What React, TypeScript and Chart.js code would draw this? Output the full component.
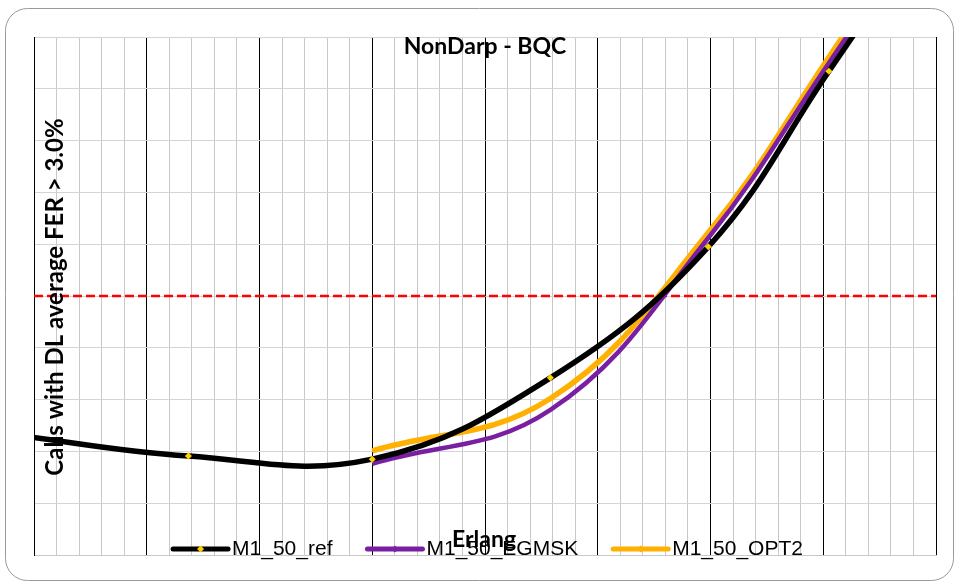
import React, { useEffect, useRef } from "react";
import { Chart, registerables } from "chart.js";

Chart.register(...registerables);

// ---- data ----
const chartTitle = "NonDarp - BQC";
const xAxisTitle = "Erlang";
const yAxisTitle = "Calls with DL average FER > 3.0%";

const refX = [-0.25, 1.37, 3.0, 4.58, 5.98, 7.05, 8.2];
const refY = [2.34, 1.91, 1.85, 3.42, 5.95, 9.34, 13.0];

const egmskX = [3.0, 4.58, 5.98, 7.05, 8.2];
const egmskY = [1.76, 2.8, 6.12, 9.5, 13.2];

const opt2X = [3.0, 4.58, 5.98, 7.05, 8.2];
const opt2Y = [2.01, 3.02, 6.22, 9.61, 13.4];

const thresholdX = [0, 8];
const thresholdY = [5, 5];

const seriesNames = ["M1_50_ref", "M1_50_EGMSK", "M1_50_OPT2"];

const xMin = 0;
const xMax = 8;
const xStep = 0.2;
const yMin = 0;
const yMax = 10;
const yStep = 1;

const toPoints = (xs: number[], ys: number[]) => xs.map((x, i) => ({ x, y: ys[i] }));

const COLORS = ["#000000", "#7B1FA2", "#FFB000"];
const MARKER_COLORS = ["#FFD000", "#7B1FA2", "#FFB000"];

const decorPlugin = {
  id: "decor",
  beforeDraw(chart: any) {
    const ctx = chart.ctx;
    ctx.save();
    ctx.fillStyle = "#ffffff";
    ctx.fillRect(0, 0, chart.width, chart.height);
    ctx.beginPath();
    (ctx as any).roundRect(5.5, 8.5, 948, 572, 22);
    ctx.strokeStyle = "#9a9a9a";
    ctx.lineWidth = 1;
    ctx.stroke();
    ctx.restore();
  },
  afterDraw(chart: any) {
    const ctx = chart.ctx;
    ctx.save();
    ctx.fillStyle = "#000";
    // title
    ctx.font = "bold 23px Lato";
    ctx.textAlign = "center";
    ctx.textBaseline = "alphabetic";
    ctx.fillText(chartTitle, 485, 53.5);

    // y axis title
    ctx.save();
    ctx.translate(63, 297);
    ctx.rotate(-Math.PI / 2);
    ctx.font = "bold 24px Lato";
    ctx.textAlign = "center";
    ctx.fillText(yAxisTitle, 0, 0);
    ctx.restore();

    // legend
    ctx.font = "21px 'Liberation Sans'";
    ctx.textAlign = "left";
    const sampleLen = 55;
    const gapText = 4;
    const gapItems = 35;
    const widths = seriesNames.map((n) => ctx.measureText(n).width);
    const total = widths.reduce((a, w) => a + sampleLen + gapText + w, 0) + gapItems * (seriesNames.length - 1);
    let x = 488 - total / 2;
    const ly = 549;
    seriesNames.forEach((name, i) => {
      ctx.beginPath();
      ctx.moveTo(x, ly);
      ctx.lineTo(x + sampleLen, ly);
      ctx.strokeStyle = COLORS[i];
      ctx.lineWidth = 5;
      ctx.lineCap = "round";
      ctx.stroke();
      const cx = x + sampleLen / 2;
      ctx.beginPath();
      ctx.moveTo(cx, ly - 3.5);
      ctx.lineTo(cx + 3.5, ly);
      ctx.lineTo(cx, ly + 3.5);
      ctx.lineTo(cx - 3.5, ly);
      ctx.closePath();
      ctx.fillStyle = MARKER_COLORS[i];
      ctx.fill();
      ctx.fillStyle = "#000";
      ctx.fillText(name, x + sampleLen + gapText, 555);
      x += sampleLen + gapText + widths[i] + gapItems;
    });

    // x axis title
    ctx.font = "bold 23px Lato";
    ctx.textAlign = "center";
    ctx.fillText(xAxisTitle, 484, 547);
    ctx.restore();
  },
};

export default function App() {
  const canvasRef = useRef<HTMLCanvasElement | null>(null);

  useEffect(() => {
    document.body.style.margin = "0";
    const canvas = canvasRef.current;
    if (!canvas) return;
    const chart = new Chart(canvas, {
      type: "line",
      data: {
        datasets: [
          {
            label: "threshold",
            data: toPoints(thresholdX, thresholdY),
            borderColor: "#FF0000",
            borderWidth: 2.5,
            borderDash: [9, 4],
            pointRadius: 0,
            tension: 0,
            order: 4,
          },
          {
            label: seriesNames[2],
            data: toPoints(opt2X, opt2Y),
            borderColor: COLORS[2],
            borderWidth: 5.5,
            pointRadius: 0,
            tension: 0.4,
            order: 3,
          },
          {
            label: seriesNames[1],
            data: toPoints(egmskX, egmskY),
            borderColor: COLORS[1],
            borderWidth: 4.5,
            pointRadius: 0,
            tension: 0.4,
            order: 2,
          },
          {
            label: seriesNames[0],
            data: toPoints(refX, refY),
            borderColor: COLORS[0],
            borderWidth: 5.5,
            pointStyle: "rectRot",
            pointRadius: 3.5,
            pointBorderWidth: 0,
            pointBackgroundColor: MARKER_COLORS[0],
            tension: 0.4,
            order: 1,
          },
        ],
      },
      options: {
        responsive: false,
        devicePixelRatio: 1,
        animation: false,
        layout: { padding: { left: 34, top: 37, right: 18, bottom: 26 } },
        plugins: {
          legend: { display: false },
          title: { display: false },
          tooltip: { enabled: false },
        },
        scales: {
          x: {
            type: "linear",
            min: xMin,
            max: xMax,
            ticks: { display: false, stepSize: xStep },
            grid: {
              drawTicks: false,
              lineWidth: 1,
              color: (c: any) => {
                const v = c.tick ? c.tick.value : 0;
                return Math.abs(v - Math.round(v)) < 1e-6 ? "#000000" : "#c8c8c8";
              },
            },
            border: { display: true, color: "#c8c8c8" },
          },
          y: {
            type: "linear",
            min: yMin,
            max: yMax,
            ticks: { display: false, stepSize: yStep },
            grid: { drawTicks: false, lineWidth: 1, color: "#d4d4d4" },
            border: { display: true, color: "#000000" },
          },
        },
      },
      plugins: [decorPlugin],
    });
    return () => chart.destroy();
  }, []);

  return (
    <div style={{ position: "fixed", left: 0, top: 0, width: 954, height: 581 }}>
      <canvas ref={canvasRef} width={954} height={581} />
    </div>
  );
}
